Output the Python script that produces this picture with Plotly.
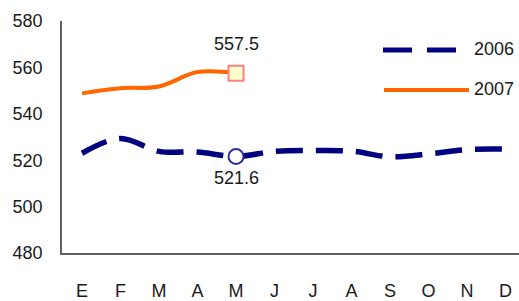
import plotly.graph_objects as go

months = ["E", "F", "M", "A", "M", "J", "J", "A", "S", "O", "N", "D"]
x_idx = list(range(len(months)))
v2006 = [523.0, 529.4, 523.8, 523.5, 521.6, 523.8, 524.2, 523.9, 521.5, 522.7, 524.6, 524.8]
v2007 = [548.8, 551.0, 551.8, 558.0, 557.5]
y_ticks = [480, 500, 520, 540, 560, 580]
hi = 4  # highlighted month index

FONT = "Liberation Sans, Arial, sans-serif"
FS = 18
TXT = "#1a1a1a"
NAVY = "#000080"
ORANGE = "#FF6600"

L, R, T, B = 62, 0, 21, 48
W, H = 519, 301
PW, PH = W - L - R, H - T - B


def px(xp):
    return (xp - L) / PW


def py(yp):
    return (H - B - yp) / PH


fig = go.Figure()
fig.add_trace(go.Scatter(
    x=x_idx, y=v2006, mode="lines", name="2006",
    line=dict(color=NAVY, width=5.5, dash="27px,13px", shape="spline", smoothing=1.0),
    showlegend=False, hoverinfo="skip"))
fig.add_trace(go.Scatter(
    x=x_idx[:len(v2007)], y=v2007, mode="lines", name="2007",
    line=dict(color=ORANGE, width=4, shape="spline", smoothing=1.0),
    showlegend=False, hoverinfo="skip"))
fig.add_trace(go.Scatter(
    x=[x_idx[hi]], y=[v2006[hi]], mode="markers", showlegend=False, hoverinfo="skip",
    marker=dict(symbol="circle", size=15, color="white", line=dict(color="#2E2E9E", width=2))))
fig.add_trace(go.Scatter(
    x=[x_idx[hi]], y=[v2007[hi]], mode="markers", showlegend=False, hoverinfo="skip",
    marker=dict(symbol="square", size=15, color="#FFFFCC", line=dict(color="#FF8080", width=2))))

fig.add_annotation(x=x_idx[hi], y=v2007[hi], text=f"{v2007[hi]}", showarrow=False,
                   yshift=29, font=dict(family=FONT, size=FS, color=TXT))
fig.add_annotation(x=x_idx[hi], y=v2006[hi], text=f"{v2006[hi]}", showarrow=False,
                   yshift=-22, font=dict(family=FONT, size=FS, color=TXT))

# legend (custom, Excel-like long samples)
fig.add_shape(type="line", xref="paper", yref="paper", x0=px(383), x1=px(456),
              y0=py(50), y1=py(50), line=dict(color=NAVY, width=5, dash="29px,15px"))
fig.add_shape(type="line", xref="paper", yref="paper", x0=px(384), x1=px(469),
              y0=py(90), y1=py(90), line=dict(color=ORANGE, width=4))
fig.add_annotation(xref="paper", yref="paper", x=px(472), y=py(49), text="2006",
                   showarrow=False, xanchor="left", yanchor="middle",
                   font=dict(family=FONT, size=FS, color=TXT))
fig.add_annotation(xref="paper", yref="paper", x=px(472), y=py(89), text="2007",
                   showarrow=False, xanchor="left", yanchor="middle",
                   font=dict(family=FONT, size=FS, color=TXT))

fig.update_layout(
    width=W, height=H,
    margin=dict(l=L, r=R, t=T, b=B),
    paper_bgcolor="white", plot_bgcolor="white",
    showlegend=False,
    font=dict(family=FONT, size=FS, color=TXT),
)
fig.update_xaxes(
    range=[-0.52, 11.35], tickvals=x_idx, ticktext=months, automargin=False,
    showgrid=False, zeroline=False, showline=True, linecolor="#606060", linewidth=1.5,
    ticks="", ticklabelstandoff=21, tickfont=dict(family=FONT, size=FS, color=TXT))
fig.update_yaxes(
    range=[480, 580], tickvals=y_ticks, automargin=False,
    showgrid=False, zeroline=False, showline=True, linecolor="#606060", linewidth=1.5,
    ticks="", ticklabelstandoff=14, tickfont=dict(family=FONT, size=FS, color=TXT))

fig.write_html(
    "out.html",
    config={"displayModeBar": False},
    post_script="document.body.style.margin='0';document.body.style.overflow='hidden';",
)
